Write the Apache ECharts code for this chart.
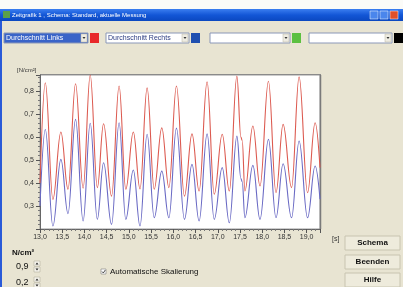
<!DOCTYPE html>
<html><head><meta charset="utf-8">
<script src="https://cdn.jsdelivr.net/npm/echarts@6/dist/echarts.min.js"></script>
<style>html,body{margin:0;padding:0;background:#e8e4d2;}#c{width:403px;height:287px;}</style>
</head><body><div id="c"></div>
<script>
// time stamps of read extrema (s)
const times = [13.00,13.12,13.29,13.47,13.63,13.80,13.97,14.13,14.29,14.43,14.61,14.78,14.93,15.10,15.25,15.41,15.57,15.74,15.90,16.07,16.25,16.42,16.58,16.76,16.92,17.10,17.26,17.43,17.52,17.55,17.61,17.79,17.95,18.14,18.31,18.47,18.66,18.83,19.02,19.19,19.30];
// Durchschnitt Links (red)
const links = [0.40,0.836,0.329,0.622,0.373,0.832,0.378,0.870,0.380,0.658,0.343,0.822,0.373,0.622,0.374,0.814,0.373,0.640,0.380,0.822,0.343,0.614,0.365,0.840,0.351,0.612,0.365,0.865,0.600,0.585,0.365,0.648,0.387,0.843,0.358,0.655,0.380,0.862,0.358,0.662,0.467];
// Durchschnitt Rechts (blue)
const rechts = [0.30,0.633,0.213,0.503,0.267,0.677,0.235,0.660,0.242,0.488,0.220,0.662,0.242,0.457,0.213,0.612,0.249,0.452,0.249,0.639,0.242,0.481,0.235,0.614,0.242,0.467,0.227,0.604,0.420,0.405,0.249,0.477,0.242,0.590,0.249,0.484,0.249,0.583,0.249,0.474,0.330];
const xTicks = {min:13.0, max:19.3, step:0.5};
const yTicks = {min:0.2, max:0.87, step:0.1};

const redData = times.map((t,i)=>[t,links[i]]);
const blueData = times.map((t,i)=>[t,rechts[i]]);
const fmt = v => v.toFixed(1).replace('.', ',');
const F = 'Liberation Sans, Arial, sans-serif';

function dropdown(x,w,text,selected,color){
  const els = [];
  els.push({type:'rect',shape:{x:x,y:33,width:w,height:10},style:{fill:selected?'#3a64c8':'#fff',stroke:'#8a97b8',lineWidth:1}});
  if(text) els.push({type:'text',style:{x:x+2,y:38,text:text,fill:selected?'#fff':'#2a3a80',font:'7px '+F,verticalAlign:'middle'}});
  els.push({type:'rect',shape:{x:x+w-7,y:34,width:6,height:8},style:{fill:'#eeece2',stroke:'#b8b4a0',lineWidth:0.5}});
  els.push({type:'polygon',shape:{points:[[x+w-5.5,37],[x+w-2.5,37],[x+w-4,39]]},style:{fill:'#333'}});
  els.push({type:'rect',shape:{x:x+w+2,y:33,width:9,height:10},style:{fill:color}});
  return els;
}
function button(y,label){
  return [
    {type:'rect',shape:{x:345,y:y,width:55,height:14},style:{fill:'#eeebdc',stroke:'#c8c4b0',lineWidth:1}},
    {type:'text',style:{x:372.5,y:y+7,text:label,fill:'#111',font:'bold 8px '+F,align:'center',verticalAlign:'middle'}}
  ];
}
function spinner(y){
  return [
    {type:'rect',shape:{x:34,y:y,width:6,height:5},style:{fill:'#f4f2ea',stroke:'#a8a490',lineWidth:0.5}},
    {type:'polygon',shape:{points:[[35.5,y+3.5],[38.5,y+3.5],[37,y+1.5]]},style:{fill:'#222'}},
    {type:'rect',shape:{x:34,y:y+6,width:6,height:5},style:{fill:'#f4f2ea',stroke:'#a8a490',lineWidth:0.5}},
    {type:'polygon',shape:{points:[[35.5,y+7.5],[38.5,y+7.5],[37,y+9.5]]},style:{fill:'#222'}}
  ];
}

const graphics = [
  {type:'rect',shape:{x:0,y:0,width:403,height:9},style:{fill:'#fbfbf8'}},
  {type:'rect',shape:{x:0,y:9,width:403,height:12},style:{fill:new echarts.graphic.LinearGradient(0,0,0,1,[{offset:0,color:'#3b7ef0'},{offset:0.5,color:'#1356d6'},{offset:1,color:'#0b48c0'}])}},
  {type:'rect',shape:{x:3,y:11,width:7,height:7},style:{fill:'#5aa04a'}},
  {type:'text',style:{x:12,y:15,text:'Zeitgrafik 1 , Schema: Standard, aktuelle Messung',fill:'#fff',font:'6px '+F,verticalAlign:'middle'}},
  {type:'rect',shape:{x:370,y:11,width:8,height:8},style:{fill:'#4a86ec',stroke:'#fff',lineWidth:0.5}},
  {type:'rect',shape:{x:380,y:11,width:8,height:8},style:{fill:'#4a86ec',stroke:'#fff',lineWidth:0.5}},
  {type:'rect',shape:{x:390,y:11,width:8,height:8},style:{fill:'#e0502a',stroke:'#fff',lineWidth:0.5}},
  {type:'rect',shape:{x:0,y:21,width:2,height:266},style:{fill:'#2a5ad8'}},
  ...dropdown(4,84,'Durchschnitt Links',true,'#e8282a'),
  ...dropdown(106,83,'Durchschnitt Rechts',false,'#1f4fb0'),
  ...dropdown(210,80,'',false,'#5cc040'),
  ...dropdown(309,83,'',false,'#000'),
  {type:'text',style:{x:17,y:70,text:'[N/cm²]',fill:'#333',font:'6px '+F,verticalAlign:'middle'}},
  {type:'text',style:{x:332,y:239,text:'[s]',fill:'#333',font:'7px '+F,verticalAlign:'middle'}},
  {type:'line',shape:{x1:320.5,y1:75,x2:320.5,y2:229},style:{stroke:'#7a7a7a',lineWidth:1.5}},
  {type:'line',shape:{x1:40,y1:74.5,x2:321,y2:74.5},style:{stroke:'#8a8a8a',lineWidth:1}},
  ...button(236,'Schema'),
  ...button(255,'Beenden'),
  ...button(273,'Hilfe'),
  {type:'text',style:{x:12,y:253,text:'N/cm²',fill:'#111',font:'bold 8px '+F,verticalAlign:'middle'}},
  {type:'text',style:{x:16,y:267,text:'0,9',fill:'#111',font:'9px '+F,verticalAlign:'middle'}},
  ...spinner(261),
  {type:'text',style:{x:16,y:283,text:'0,2',fill:'#111',font:'9px '+F,verticalAlign:'middle'}},
  ...spinner(277),
  {type:'rect',shape:{x:101,y:269,width:5,height:5},style:{fill:'#fff',stroke:'#666',lineWidth:0.5}},
  {type:'polyline',shape:{points:[[102,271.5],[103.3,273],[105.3,270]]},style:{stroke:'#222',lineWidth:0.8,fill:null}},
  {type:'text',style:{x:110,y:272,text:'Automatische Skalierung',fill:'#111',font:'8px '+F,verticalAlign:'middle'}}
];

const chart = echarts.init(document.getElementById('c'), null, {renderer:'canvas'});
chart.setOption({
  backgroundColor:'#e8e4d2',
  animation:false,
  grid:{left:40,top:75,width:280,height:154,show:true,backgroundColor:'#fff',borderColor:'#9a9a9a',borderWidth:1},
  xAxis:{type:'value',min:xTicks.min,max:xTicks.max,interval:xTicks.step,
    axisLine:{show:true,lineStyle:{color:'#666',width:1}},
    axisTick:{show:true,length:4,lineStyle:{color:'#555'}},
    minorTick:{show:true,splitNumber:5,length:2,lineStyle:{color:'#777'}},
    splitLine:{show:false},
    axisLabel:{formatter:fmt,showMaxLabel:false,fontSize:7,color:'#333',fontFamily:F,margin:5}},
  yAxis:{type:'value',min:yTicks.min,max:yTicks.max,interval:yTicks.step,
    axisLine:{show:true,lineStyle:{color:'#666',width:1}},
    axisTick:{show:true,length:4,lineStyle:{color:'#555'}},
    minorTick:{show:true,splitNumber:5,length:2,lineStyle:{color:'#777'}},
    splitLine:{show:false},
    axisLabel:{formatter:fmt,showMinLabel:false,showMaxLabel:false,fontSize:7,color:'#333',fontFamily:F,margin:6}},
  series:[
    {name:'Durchschnitt Links',type:'line',data:redData,smooth:0.4,smoothMonotone:'x',showSymbol:false,lineStyle:{color:'#dc5a50',width:1.1},z:3},
    {name:'Durchschnitt Rechts',type:'line',data:blueData,smooth:0.4,smoothMonotone:'x',showSymbol:false,lineStyle:{color:'#6a6ac4',width:1.1},z:2}
  ],
  graphic:graphics
});
</script></body></html>
